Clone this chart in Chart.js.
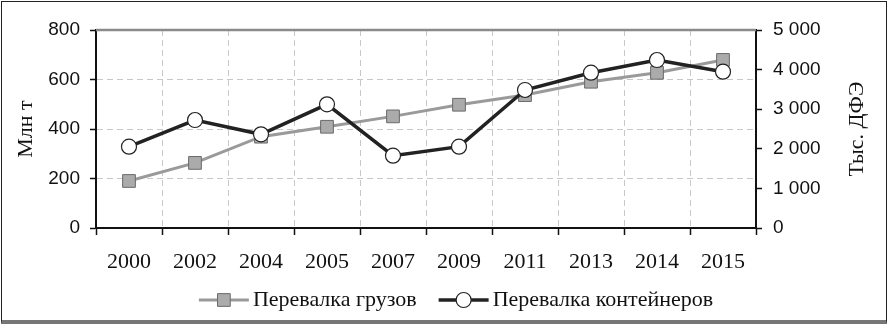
<!DOCTYPE html>
<html>
<head>
<meta charset="utf-8">
<script src="https://cdn.jsdelivr.net/npm/chart.js@4"></script>
<style>
  body { margin: 0; background: #fff; }
  .wrap { position: relative; width: 889px; height: 325px; }
  .frame {
    position: absolute; left: 1px; top: 1px; width: 884px; height: 318px;
    border: 1px solid #222; border-bottom: 4px solid #777; pointer-events: none;
  }
</style>
</head>
<body>
<div class="wrap">
  <canvas id="chart" width="889" height="325"></canvas>
  <div class="frame"></div>
</div>
<script>
const years = ['2000', '2002', '2004', '2005', '2007', '2009', '2011', '2013', '2014', '2015']
const cargo = [190, 263, 369, 409, 451, 498, 537, 591, 627, 679]        // Млн т
const containers = [2053, 2727, 2366, 3123, 1826, 2053, 3485, 3922, 4242, 3947] // Тыс. ДФЭ
const leftTicks = [0, 200, 400, 600, 800]
const rightTicks = [0, 1000, 2000, 3000, 4000, 5000]

const serif = 'Liberation Serif'
const sans = 'Liberation Sans'

function spaced(v) {
  return String(v).replace(/\B(?=(\d{3})+(?!\d))/g, ' ')
}

// top frame line of the plot + right axis title + legend
const extras = {
  id: 'extras',
  beforeDatasetsDraw(chart) {
    const {ctx, chartArea} = chart
    ctx.save()
    ctx.strokeStyle = '#8a8a8a'
    ctx.lineWidth = 2.5
    ctx.beginPath()
    ctx.moveTo(chartArea.left, chartArea.top)
    ctx.lineTo(chartArea.right, chartArea.top)
    ctx.stroke()
    ctx.restore()
  },
  afterDraw(chart) {
    const {ctx, chartArea} = chart
    ctx.save()
    // right title, reading bottom to top
    ctx.font = '22px ' + serif
    ctx.fillStyle = '#111'
    ctx.textAlign = 'center'
    ctx.textBaseline = 'middle'
    ctx.translate(857, (chartArea.top + chartArea.bottom) / 2)
    ctx.rotate(-Math.PI / 2)
    ctx.fillText('Тыс. ДФЭ', 0, 0)
    ctx.restore()

    // legend: line with marker, then label
    ctx.save()
    ctx.font = '22px ' + serif
    const y = 300
    const lineW = 50, gap = 4, itemGap = 22
    const sets = chart.data.datasets
    let total = 0
    sets.forEach((ds, i) => {
      total += lineW + gap + ctx.measureText(ds.label).width
      if (i > 0) total += itemGap
    })
    let x = 456 - total / 2
    sets.forEach(ds => {
      ctx.strokeStyle = ds.borderColor
      ctx.lineWidth = ds.borderWidth
      ctx.beginPath()
      ctx.moveTo(x, y)
      ctx.lineTo(x + lineW, y)
      ctx.stroke()
      ctx.fillStyle = ds.pointBackgroundColor
      ctx.strokeStyle = ds.pointBorderColor
      ctx.lineWidth = ds.pointBorderWidth
      ctx.beginPath()
      if (ds.pointStyle === 'rect') {
        const s = Math.SQRT1_2 * ds.pointRadius
        ctx.rect(x + lineW / 2 - s, y - s, 2 * s, 2 * s)
      } else {
        ctx.arc(x + lineW / 2, y, ds.pointRadius, 0, Math.PI * 2)
      }
      ctx.fill()
      ctx.stroke()
      ctx.fillStyle = '#111'
      ctx.textAlign = 'left'
      ctx.textBaseline = 'middle'
      ctx.fillText(ds.label, x + lineW + gap, y)
      x += lineW + gap + ctx.measureText(ds.label).width + itemGap
    })
    ctx.restore()
  }
}

new Chart(document.getElementById('chart'), {
  type: 'line',
  data: {
    labels: years,
    datasets: [{
      label: 'Перевалка грузов',
      data: cargo,
      yAxisID: 'y',
      order: 1,
      borderColor: '#9a9a9a',
      borderWidth: 3,
      pointStyle: 'rect',
      pointRadius: 9,
      pointBackgroundColor: '#ababab',
      pointBorderColor: '#6a6a6a',
      pointBorderWidth: 1
    }, {
      label: 'Перевалка контейнеров',
      data: containers,
      yAxisID: 'y1',
      order: 0,
      borderColor: '#222',
      borderWidth: 3.5,
      pointStyle: 'circle',
      pointRadius: 7.5,
      pointBackgroundColor: '#fff',
      pointBorderColor: '#222',
      pointBorderWidth: 1.2
    }]
  },
  options: {
    responsive: false,
    animation: false,
    layout: { padding: { top: 30, left: 0, right: 0, bottom: 0 } },
    plugins: {
      legend: { display: false },
      tooltip: { enabled: false }
    },
    scales: {
      x: {
        offset: true,
        afterFit: s => { s.height = 97 },
        grid: {
          offset: true,
          color: '#c8c8c8',
          lineWidth: 1,
          tickColor: '#111',
          tickWidth: 1.5,
          tickLength: 7,
          tickBorderDash: []
        },
        border: { color: '#111', width: 2, dash: [6, 4] },
        ticks: {
          color: '#111',
          font: { family: serif, size: 22 },
          padding: 14,
          maxRotation: 0,
          autoSkip: false
        }
      },
      y: {
        position: 'left',
        min: 0,
        max: 800,
        afterFit: s => { s.width = 96 },
        afterBuildTicks: s => { s.ticks = leftTicks.map(v => ({value: v})) },
        grid: {
          color: '#c8c8c8',
          lineWidth: 1,
          tickColor: '#111',
          tickWidth: 1.5,
          tickLength: 6,
          tickBorderDash: []
        },
        border: { color: '#111', width: 2, dash: [6, 4] },
        ticks: {
          color: '#111',
          font: { family: sans, size: 19 },
          padding: 10
        },
        title: {
          display: true,
          text: 'Млн т',
          color: '#111',
          font: { family: serif, size: 22 },
          padding: { top: 13, bottom: 0 }
        }
      },
      y1: {
        position: 'right',
        min: 0,
        max: 5000,
        afterFit: s => { s.width = 133 },
        afterBuildTicks: s => { s.ticks = rightTicks.map(v => ({value: v})) },
        grid: {
          drawOnChartArea: false,
          tickColor: '#111',
          tickWidth: 1.5,
          tickLength: 6
        },
        border: { color: '#111', width: 2 },
        ticks: {
          color: '#111',
          font: { family: sans, size: 19 },
          padding: 11,
          callback: v => spaced(v)
        }
      }
    }
  },
  plugins: [extras]
})
</script>
</body>
</html>
